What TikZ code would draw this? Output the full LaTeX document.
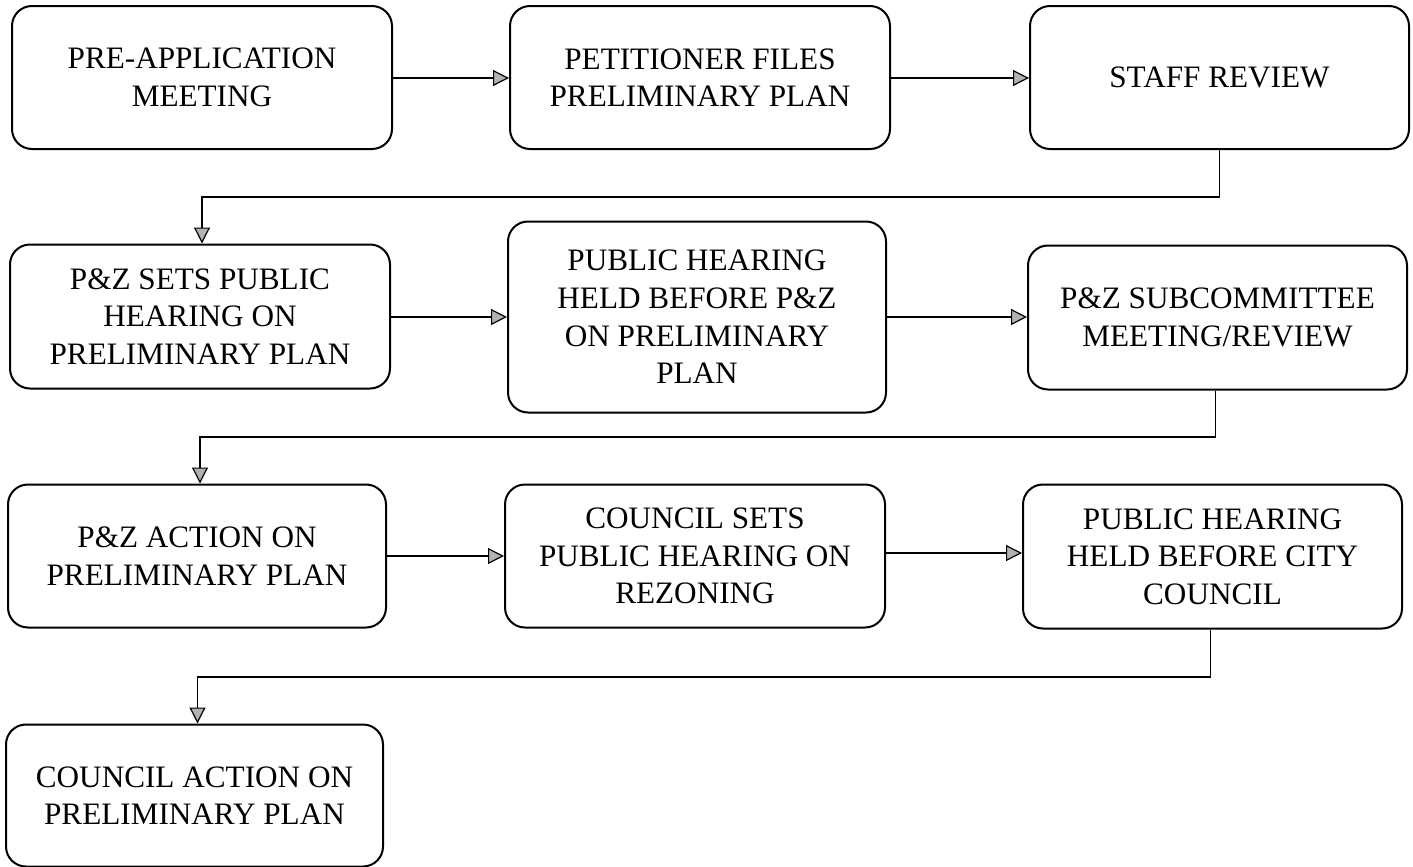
\documentclass[tikz,border=0pt]{standalone}
\usepackage{fontspec}
\setmainfont{Liberation Serif}
\usetikzlibrary{arrows.meta}
\begin{document}
\begin{tikzpicture}[x=0.5pt,y=-0.5pt,
  stepbox/.style={draw=black, line width=1pt, rounded corners=10pt, align=center, inner sep=0pt,
    font=\fontsize{15.6pt}{18.8pt}\selectfont},
  conn/.style={draw=black, line width=0.8pt, -{Triangle[length=8pt,width=8pt,fill=gray!60,line width=0.6pt]}}]
\useasboundingbox (0,0) rectangle (1413,867);
\node[stepbox, minimum width=190pt, minimum height=71.5pt] (A) at (202,77.5) {PRE-APPLICATION\\MEETING};
\node[stepbox, minimum width=190pt, minimum height=71.5pt] (B) at (700,77.5) {PETITIONER FILES\\PRELIMINARY PLAN};
\node[stepbox, minimum width=189.5pt, minimum height=71.5pt] (C) at (1219.5,77.5) {STAFF REVIEW};
\node[stepbox, minimum width=190pt, minimum height=72pt] (D) at (200,316.5) {P\&Z SETS PUBLIC\\HEARING ON\\PRELIMINARY PLAN};
\node[stepbox, minimum width=189pt, minimum height=95.5pt] (E) at (697,317) {PUBLIC HEARING\\HELD BEFORE P\&Z\\ON PRELIMINARY\\PLAN};
\node[stepbox, minimum width=189.5pt, minimum height=72pt] (F) at (1217.5,317.5) {P\&Z SUBCOMMITTEE\\MEETING/REVIEW};
\node[stepbox, minimum width=189pt, minimum height=71.5pt] (G) at (197,556) {P\&Z ACTION ON\\PRELIMINARY PLAN};
\node[stepbox, minimum width=190pt, minimum height=71.5pt] (H) at (695,556) {COUNCIL SETS\\PUBLIC HEARING ON\\REZONING};
\node[stepbox, minimum width=189.5pt, minimum height=72pt] (I) at (1212.5,556.5) {PUBLIC HEARING\\HELD BEFORE CITY\\COUNCIL};
\node[stepbox, minimum width=188.5pt, minimum height=71pt] (J) at (194.5,795.5) {COUNCIL ACTION ON\\PRELIMINARY PLAN};
\coordinate (k1) at (0,197);
\coordinate (k2) at (0,437);
\coordinate (k3) at (0,677);
\draw[conn] (A.east |- 0,78) -- (B.west |- 0,78);
\draw[conn] (B.east |- 0,78) -- (C.west |- 0,78);
\draw[conn] (C.south) -- (C.south |- k1) -| ([xshift=1pt]D.north);
\draw[conn] (D.east |- 0,317) -- (E.west |- 0,317);
\draw[conn] (E.east |- 0,317) -- (F.west |- 0,317);
\draw[conn] ([xshift=-1pt]F.south) -- ([xshift=-1pt]F.south |- k2) -| ([xshift=1.5pt]G.north);
\draw[conn] (G.east |- 0,556) -- (H.west |- 0,556);
\draw[conn] (H.east |- 0,553) -- (I.west |- 0,553);
\draw[conn] ([xshift=-1pt]I.south) -- ([xshift=-1pt]I.south |- k3) -| ([xshift=1.5pt]J.north);
\end{tikzpicture}
\end{document}
